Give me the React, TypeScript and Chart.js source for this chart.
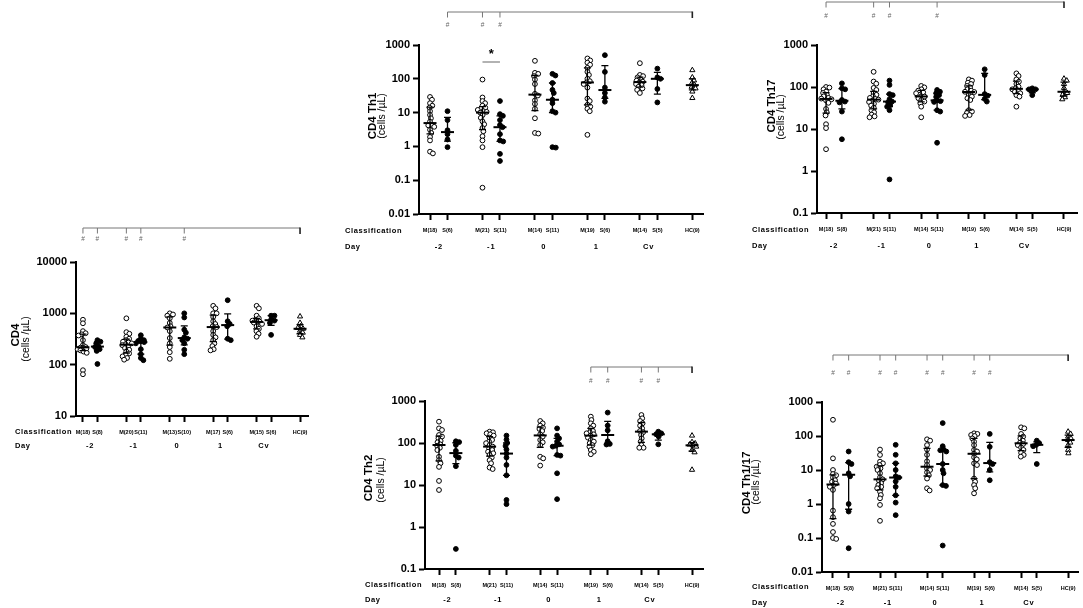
import React, { useEffect, useRef } from "react";
import Chart from "chart.js/auto";

const FONT = "'Liberation Sans', Arial, sans-serif";
Chart.defaults.font.family = FONT;

// shared x layout: two groups per day, gap between days, HC last
const groupPos = [0, 1, 3, 4, 6, 7, 9, 10, 12, 13, 15];
const groupKind = ["M", "S", "M", "S", "M", "S", "M", "S", "M", "S", "HC"];
const dayLabels = ["-2", "-1", "0", "1", "Cv"];
const dayPos = [0.5, 3.5, 6.5, 9.5, 12.5];

// CD4
const cd4Labels = ["M(18)", "S(8)", "M(20)", "S(11)", "M(13)", "S(10)", "M(17)", "S(6)", "M(15)", "S(6)", "HC(9)"];
const cd4Values = [
  [750, 640, 450, 410, 390, 370, 300, 240, 220, 215, 210, 205, 200, 190, 180, 170, 78, 65],
  [300, 280, 260, 230, 220, 200, 185, 103],
  [800, 430, 400, 350, 320, 300, 280, 270, 260, 250, 240, 225, 210, 195, 180, 165, 155, 145, 135, 125],
  [374, 320, 300, 290, 285, 275, 260, 200, 160, 135, 122],
  [1000, 950, 900, 800, 650, 560, 530, 450, 330, 260, 220, 175, 130],
  [1000, 830, 480, 420, 340, 320, 300, 260, 195, 160],
  [1400, 1250, 1000, 1000, 850, 700, 620, 560, 540, 450, 380, 340, 300, 260, 230, 200, 190],
  [1800, 700, 620, 560, 320, 300],
  [1400, 1250, 900, 800, 750, 720, 690, 680, 660, 620, 560, 500, 450, 400, 350],
  [900, 900, 750, 720, 650, 380],
  [870, 650, 560, 520, 500, 460, 420, 380, 340],
];
const cd4Hash = [0, 1, 3, 4, 7];

// CD4 Th1
const th1Labels = ["M(18)", "S(6)", "M(21)", "S(11)", "M(14)", "S(11)", "M(19)", "S(6)", "M(14)", "S(5)", "HC(9)"];
const th1Values = [
  [29, 24, 19, 16, 14, 11, 8.5, 6.8, 5.4, 4.4, 4.2, 3.8, 3.1, 2.5, 1.9, 1.5, 0.7, 0.62],
  [11, 6, 3, 2.3, 1.6, 0.95],
  [95, 28, 22, 19, 16, 14, 13, 12, 11, 10.5, 10, 8.5, 7, 5.5, 4.5, 3.5, 2.8, 2.0, 1.5, 0.95, 0.06],
  [22, 9, 8, 6, 4.3, 3.7, 2.3, 1.5, 1.4, 0.6, 0.37],
  [340, 150, 140, 120, 95, 70, 36, 32, 23, 18, 13, 6.8, 2.5, 2.4],
  [140, 125, 75, 47, 38, 24, 19, 11, 10, 0.95, 0.92],
  [400, 350, 300, 260, 210, 160, 130, 100, 85, 78, 70, 55, 26, 22, 17, 15, 13, 11, 2.2],
  [500, 160, 55, 38, 28, 21],
  [290, 130, 120, 110, 96, 88, 82, 78, 70, 65, 58, 52, 47, 38],
  [200, 110, 100, 50, 20],
  [180, 110, 90, 75, 65, 58, 52, 42, 27],
];
const th1Hash = [1, 3, 4];
const th1Star = [3, 4];

// CD4 Th17
const th17Labels = ["M(18)", "S(8)", "M(21)", "S(11)", "M(14)", "S(11)", "M(19)", "S(6)", "M(14)", "S(5)", "HC(9)"];
const th17Values = [
  [100, 97, 88, 78, 72, 65, 60, 55, 53, 51, 48, 42, 30, 25, 21, 13, 10.5, 3.3],
  [122, 93, 88, 49, 45, 43, 26, 5.7],
  [230, 135, 120, 95, 85, 72, 65, 60, 55, 52, 50, 47, 44, 40, 36, 32, 28, 25, 22, 20, 19],
  [142, 112, 68, 64, 51, 45, 43, 37, 34, 28, 0.63],
  [106, 98, 88, 82, 75, 71, 60, 59, 54, 49, 45, 41, 34, 19],
  [85, 77, 71, 64, 58, 48, 46, 44, 28, 26, 4.7],
  [152, 142, 127, 118, 106, 98, 88, 82, 77, 76, 64, 59, 54, 49, 28, 26, 24, 21.5, 20.5],
  [264, 193, 68, 62, 52, 45],
  [211, 183, 152, 134, 118, 102, 93, 88, 82, 77, 71, 64, 59, 34],
  [93, 88, 88, 82, 64],
  [158, 142, 118, 95, 77, 72, 65, 57, 51],
];
const th17Hash = [0, 3, 4, 7];

// CD4 Th2
const th2Labels = ["M(18)", "S(8)", "M(21)", "S(11)", "M(14)", "S(11)", "M(19)", "S(6)", "M(14)", "S(5)", "HC(9)"];
const th2Values = [
  [322, 223, 204, 155, 142, 129, 112, 104, 93, 86, 77, 68, 47, 39, 33, 27, 12.5, 7.6],
  [110, 105, 90, 65, 50, 45, 28, 0.3],
  [186, 180, 170, 161, 150, 134, 118, 108, 99, 89, 82, 74, 68, 62, 57, 52, 45, 39, 33, 26, 24],
  [150, 120, 100, 85, 70, 56, 45, 30, 17, 4.4, 3.5],
  [334, 294, 259, 232, 216, 193, 161, 142, 118, 104, 89, 47, 43, 29],
  [223, 150, 129, 108, 93, 86, 82, 52, 50, 19, 4.6],
  [424, 353, 294, 259, 223, 193, 180, 170, 161, 150, 134, 118, 108, 99, 89, 82, 68, 62, 54],
  [530, 260, 200, 110, 95, 92],
  [464, 387, 334, 294, 259, 223, 193, 180, 155, 129, 108, 89, 77, 77],
  [186, 170, 161, 142, 93],
  [150, 105, 98, 92, 88, 82, 68, 60, 23],
];
const th2Hash = [9, 10, 12, 13];

// CD4 Th1/17
const th117Labels = ["M(18)", "S(8)", "M(21)", "S(11)", "M(14)", "S(11)", "M(19)", "S(6)", "M(14)", "S(5)", "HC(9)"];
const th117Values = [
  [300, 22, 10, 7.6, 7, 6, 5, 4.5, 4.0, 3.5, 3.2, 2.6, 0.64, 0.41, 0.26, 0.15, 0.1, 0.094],
  [35, 17, 15, 8, 6.5, 1.0, 0.6, 0.05],
  [40, 27.7, 17.6, 15.7, 14, 12.5, 11.2, 10, 8, 6.1, 5.3, 4.9, 4.1, 3.6, 3.2, 2.9, 2.3, 1.84, 1.47, 0.94, 0.32],
  [55, 28, 15.7, 10, 6.5, 6, 4.6, 3.2, 1.8, 1.1, 0.47],
  [80, 73, 54, 40, 28, 18, 14, 11, 10, 8.5, 7, 5.6, 2.9, 2.5],
  [240, 50, 40, 38, 35, 15, 10, 8, 3.6, 3.4, 0.06],
  [120, 115, 107, 100, 85, 68, 54, 39, 35, 30, 23.6, 20.6, 15.7, 14, 5.6, 4.5, 3.6, 2.9, 2.06],
  [115, 48, 17, 15, 10, 5],
  [180, 168, 115, 96, 85, 73, 64, 58, 54, 46, 39, 32, 27.7, 24.7],
  [73, 62, 55, 50, 15],
  [134, 115, 96, 85, 76, 64, 54, 39, 31],
];
const th117Hash = [0, 1, 3, 4, 6, 7, 9, 10];

interface Layout {
  box: [number, number, number, number]; // canvas left, top, width, height (page px)
  plot: [number, number, number, number]; // plot left, top, right, bottom (page px)
  xMin: number;
  xMax: number;
  titleX: [number, number];
  titleY: [number, number];
  classX: number;
  classY: number;
  dayY: number;
  bracketY: number;
  hashY: number;
}

const Y_AXIS_W = 40;
const X_AXIS_H = 20;

// GraphPad style quantile ((n+1)p)
function quantile(asc: number[], p: number) {
  const n = asc.length;
  const pos = (n + 1) * p;
  if (pos <= 1) return asc[0];
  if (pos >= n) return asc[n - 1];
  const lo = Math.floor(pos);
  return asc[lo - 1] + (pos - lo) * (asc[lo] - asc[lo - 1]);
}

// narrow beeswarm: horizontal offsets (in x units), dots may overlap a bit,
// spread capped so a column stays about as wide as in the original plot
function swarmOffsets(vals: number[], pxDec: number, pxUnit: number, d = 3.4, maxOff = 5.5) {
  const placed: { x: number; y: number }[] = [];
  const off = new Array(vals.length).fill(0);
  const order = vals.map((_, i) => i).sort((a, b) => vals[b] - vals[a]);
  for (const i of order) {
    const y = -Math.log10(vals[i]) * pxDec;
    const near = placed.filter((p) => Math.abs(p.y - y) < d);
    const cands = [0];
    near.forEach((p) => {
      const dx = Math.sqrt(d * d - (p.y - y) ** 2);
      cands.push(p.x + dx, p.x - dx);
    });
    const ok = cands.filter((c) => Math.abs(c) <= maxOff);
    ok.sort((a, b) => Math.abs(a) - Math.abs(b));
    let x = ok.find((c) => near.every((p) => (p.x - c) ** 2 + (p.y - y) ** 2 >= d * d - 0.01));
    if (x === undefined) {
      let best = -1;
      x = 0;
      for (const c of ok) {
        const m = Math.min(...near.map((p) => (p.x - c) ** 2 + (p.y - y) ** 2));
        if (m > best) {
          best = m;
          x = c;
        }
      }
    }
    placed.push({ x, y });
    off[i] = x / pxUnit;
  }
  return off;
}

interface PanelProps {
  title: string;
  labels: string[];
  values: number[][];
  hashes: number[];
  star?: number[];
  yMin: number;
  yMax: number;
  lay: Layout;
}

const Panel: React.FC<PanelProps> = ({ title, labels, values, hashes, star, yMin, yMax, lay }) => {
  const canvasRef = useRef<HTMLCanvasElement>(null);
  const [bx, by, bw, bh] = lay.box;

  useEffect(() => {
    if (!canvasRef.current) return;
    const [L, T, R, B] = lay.plot;
    const pxUnit = (R - L) / (lay.xMax - lay.xMin);
    const pxDec = (B - T) / Math.log10(yMax / yMin);

    const groups = values.map((vals, g) => {
      const off = swarmOffsets(vals, pxDec, pxUnit);
      return vals.map((v, j) => ({ x: groupPos[g] + off[j], y: v }));
    });
    const pick = (kind: string) => groups.filter((_, g) => groupKind[g] === kind).flat();

    const decades: number[] = [];
    for (let e = Math.round(Math.log10(yMin)); e <= Math.round(Math.log10(yMax)); e++) {
      decades.push(Number("1e" + e));
    }

    const text = (
      ctx: CanvasRenderingContext2D,
      s: string,
      x: number,
      y: number,
      font: string,
      color = "#000",
      align: CanvasTextAlign = "center",
      spacing = "0px"
    ) => {
      ctx.save();
      ctx.font = font;
      ctx.fillStyle = color;
      ctx.textAlign = align;
      ctx.textBaseline = "middle";
      (ctx as any).letterSpacing = spacing;
      ctx.fillText(s, x, y);
      ctx.restore();
    };

    const extras = {
      id: "extras",
      afterDatasetsDraw(chart: any) {
        const ctx: CanvasRenderingContext2D = chart.ctx;
        const xs = chart.scales.x;
        const ys = chart.scales.y;
        ctx.save();
        ctx.strokeStyle = "#000";
        values.forEach((vals, g) => {
          const asc = [...vals].sort((a, b) => a - b);
          const px = xs.getPixelForValue(groupPos[g]);
          const med = ys.getPixelForValue(quantile(asc, 0.5));
          const q1 = ys.getPixelForValue(quantile(asc, 0.25));
          const q3 = ys.getPixelForValue(quantile(asc, 0.75));
          ctx.lineWidth = 1.3;
          ctx.beginPath();
          ctx.moveTo(px, q1);
          ctx.lineTo(px, q3);
          ctx.moveTo(px - 3.5, q1);
          ctx.lineTo(px + 3.5, q1);
          ctx.moveTo(px - 3.5, q3);
          ctx.lineTo(px + 3.5, q3);
          ctx.stroke();
          ctx.lineWidth = 2;
          ctx.beginPath();
          ctx.moveTo(px - 6.5, med);
          ctx.lineTo(px + 6.5, med);
          ctx.stroke();
        });
        ctx.restore();
      },
      afterDraw(chart: any) {
        const ctx: CanvasRenderingContext2D = chart.ctx;
        const xs = chart.scales.x;

        // y axis title, two lines
        [title, "(cells /\u00b5L)"].forEach((s, k) => {
          ctx.save();
          ctx.translate(lay.titleX[k] - bx, lay.titleY[k] - by);
          ctx.rotate(-Math.PI / 2);
          text(ctx, s, 0, 0, k === 0 ? `bold 11.5px ${FONT}` : `10.5px ${FONT}`);
          ctx.restore();
        });

        // row captions and day values
        text(ctx, "Classification", lay.classX - bx, lay.classY - by, `bold 7.5px ${FONT}`, "#000", "left", "0.6px");
        text(ctx, "Day", lay.classX - bx, lay.dayY - by, `bold 7.5px ${FONT}`, "#000", "left", "0.6px");
        dayLabels.forEach((s, k) => {
          text(ctx, s, xs.getPixelForValue(dayPos[k]), lay.dayY - by, `bold 7.5px ${FONT}`, "#000", "center", "0.8px");
        });

        // bracket vs HC with # marks
        const yl = lay.bracketY - by;
        const hx = hashes.map((p) => xs.getPixelForValue(p));
        const hcX = xs.getPixelForValue(groupPos[groupPos.length - 1]);
        ctx.save();
        ctx.strokeStyle = "#777";
        ctx.lineWidth = 1;
        ctx.beginPath();
        ctx.moveTo(hx[0], yl);
        ctx.lineTo(hcX, yl);
        hx.forEach((x) => {
          ctx.moveTo(x, yl);
          ctx.lineTo(x, yl + 5.5);
        });
        ctx.stroke();
        ctx.strokeStyle = "#222";
        ctx.lineWidth = 1.6;
        ctx.beginPath();
        ctx.moveTo(hcX, yl - 0.5);
        ctx.lineTo(hcX, yl + 6);
        ctx.stroke();
        ctx.restore();
        hx.forEach((x) => text(ctx, "#", x, lay.hashY - by, `6.5px ${FONT}`, "#666"));

        // pairwise M vs S mark
        if (star) {
          const a = xs.getPixelForValue(star[0]);
          const b = xs.getPixelForValue(star[1]);
          ctx.save();
          ctx.strokeStyle = "#999";
          ctx.lineWidth = 1.5;
          ctx.beginPath();
          ctx.moveTo(a, 62 - by);
          ctx.lineTo(b, 62 - by);
          ctx.stroke();
          ctx.restore();
          text(ctx, "*", (a + b) / 2, 54 - by, `bold 13px ${FONT}`);
        }
      },
    };

    const chart = new Chart(canvasRef.current, {
      type: "scatter",
      data: {
        datasets: [
          {
            data: pick("M"),
            pointStyle: "circle",
            pointRadius: 2.4,
            pointBackgroundColor: "#fff",
            pointBorderColor: "#000",
            pointBorderWidth: 1,
            clip: false,
          },
          {
            data: pick("S"),
            pointStyle: "circle",
            pointRadius: 2.4,
            pointBackgroundColor: "#000",
            pointBorderColor: "#000",
            pointBorderWidth: 1,
            clip: false,
          },
          {
            data: pick("HC"),
            pointStyle: "triangle",
            pointRadius: 3,
            pointBackgroundColor: "#fff",
            pointBorderColor: "#000",
            pointBorderWidth: 1,
            clip: false,
          },
        ],
      },
      options: {
        animation: false,
        responsive: true,
        maintainAspectRatio: false,
        events: [],
        layout: {
          padding: {
            left: L - bx - Y_AXIS_W,
            right: bx + bw - R,
            top: T - by,
            bottom: by + bh - B - X_AXIS_H,
          },
        },
        plugins: {
          legend: { display: false },
          tooltip: { enabled: false },
        },
        scales: {
          x: {
            type: "linear",
            min: lay.xMin,
            max: lay.xMax,
            afterBuildTicks: (s: any) => {
              s.ticks = groupPos.map((v) => ({ value: v }));
            },
            afterFit: (s: any) => {
              s.height = X_AXIS_H;
              s.paddingLeft = 0;
              s.paddingRight = 0;
            },
            ticks: {
              autoSkip: false,
              maxRotation: 0,
              minRotation: 0,
              padding: 7,
              color: "#000",
              font: { size: 5.5, weight: "bold" },
              callback: (_v: any, i: number) => labels[i],
            },
            grid: {
              drawOnChartArea: false,
              tickLength: 6,
              tickWidth: 2,
              tickColor: "#000",
            },
            border: { color: "#000", width: 2 },
          },
          y: {
            type: "logarithmic",
            min: yMin,
            max: yMax,
            afterBuildTicks: (s: any) => {
              s.ticks = decades.map((v) => ({ value: v }));
            },
            afterFit: (s: any) => {
              s.width = Y_AXIS_W;
              s.paddingTop = 0;
              s.paddingBottom = 0;
            },
            ticks: {
              autoSkip: false,
              padding: 3,
              color: "#000",
              font: { size: 11, weight: "bold" },
              callback: (v: any) => String(Number(v)),
            },
            grid: {
              drawOnChartArea: false,
              tickLength: 6,
              tickWidth: 2,
              tickColor: "#000",
            },
            border: { color: "#000", width: 2 },
          },
        },
      },
      plugins: [extras],
    } as any);

    return () => {
      chart.destroy();
    };
  }, []);

  return (
    <div style={{ position: "absolute", left: bx, top: by, width: bw, height: bh }}>
      <canvas ref={canvasRef}></canvas>
    </div>
  );
};

const cd4Layout: Layout = {
  box: [0, 190, 330, 280], plot: [76, 262, 308, 416], xMin: -0.48, xMax: 15.55,
  titleX: [16, 26], titleY: [335, 339], classX: 15, classY: 432, dayY: 446, bracketY: 228, hashY: 239,
};
const th1Layout: Layout = {
  box: [330, 0, 390, 262], plot: [419, 45, 703, 214], xMin: -0.63, xMax: 15.61,
  titleX: [373, 382], titleY: [116, 116], classX: 345, classY: 231, dayY: 247, bracketY: 12, hashY: 25,
};
const th17Layout: Layout = {
  box: [735, 0, 348, 262], plot: [817, 45, 1077, 213], xMin: -0.57, xMax: 15.82,
  titleX: [772, 781], titleY: [106, 117], classX: 752, classY: 230, dayY: 246, bracketY: 2, hashY: 16,
};
const th2Layout: Layout = {
  box: [330, 340, 390, 268], plot: [425, 401, 703, 569], xMin: -0.83, xMax: 15.65,
  titleX: [369, 381], titleY: [478, 480], classX: 365, classY: 585, dayY: 600, bracketY: 367, hashY: 381,
};
const th117Layout: Layout = {
  box: [735, 340, 348, 268], plot: [822, 402, 1080, 572], xMin: -0.7, xMax: 15.63,
  titleX: [747, 756], titleY: [483, 482], classX: 752, classY: 587, dayY: 603, bracketY: 355, hashY: 373,
};

export default function App() {
  return (
    <div style={{ position: "absolute", left: 0, top: 0, width: 1083, height: 608, background: "#fff" }}>
      <Panel title="CD4" labels={cd4Labels} values={cd4Values} hashes={cd4Hash} yMin={10} yMax={10000} lay={cd4Layout} />
      <Panel title="CD4 Th1" labels={th1Labels} values={th1Values} hashes={th1Hash} star={th1Star} yMin={0.01} yMax={1000} lay={th1Layout} />
      <Panel title="CD4 Th17" labels={th17Labels} values={th17Values} hashes={th17Hash} yMin={0.1} yMax={1000} lay={th17Layout} />
      <Panel title="CD4 Th2" labels={th2Labels} values={th2Values} hashes={th2Hash} yMin={0.1} yMax={1000} lay={th2Layout} />
      <Panel title="CD4 Th1/17" labels={th117Labels} values={th117Values} hashes={th117Hash} yMin={0.01} yMax={1000} lay={th117Layout} />
    </div>
  );
}
